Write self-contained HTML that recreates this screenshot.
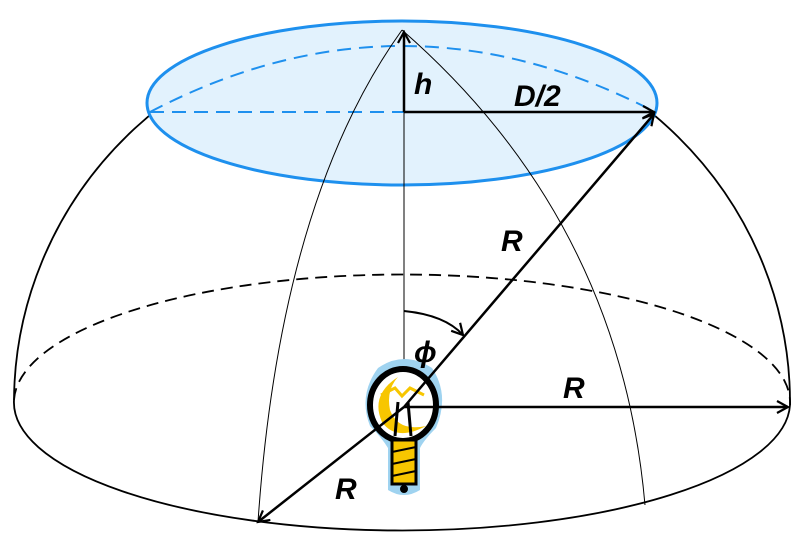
<!DOCTYPE html>
<html><head><meta charset="utf-8"><style>
html,body{margin:0;padding:0;background:#fff;}
svg{display:block;}
text{font-family:"Liberation Sans",Arial,sans-serif;font-weight:bold;font-style:italic;font-size:30px;fill:#000;}
</style></head><body>
<svg width="800" height="550" viewBox="0 0 800 550" xmlns="http://www.w3.org/2000/svg">
<defs>
<marker id="a" markerWidth="14" markerHeight="14" refX="12" refY="7" orient="auto" markerUnits="userSpaceOnUse">
<path d="M1,1 L12,7 L1,13" fill="none" stroke="#000" stroke-width="2.2"/>
</marker>
</defs>
<path d="M14,400 A388,128 0 0 1 790,405" fill="none" stroke="#000" stroke-width="1.8" stroke-dasharray="12,7"/>
<path d="M14,400 A388,128 0 0 0 790,405" fill="none" stroke="#000" stroke-width="1.8"/>
<path d="M14,400 A388,378 0 0 1 790,405" fill="none" stroke="#000" stroke-width="1.8"/>
<ellipse cx="402" cy="103" rx="255" ry="82" fill="#e2f2fd" stroke="#1e90ee" stroke-width="3"/>
<path d="M150,112 Q402,-20 655,112" fill="none" stroke="#1e90ee" stroke-width="2" stroke-dasharray="14,8"/>
<line x1="150" y1="112" x2="404" y2="112" stroke="#1e90ee" stroke-width="2" stroke-dasharray="14,8"/>
<path d="M402,30 Q280,200 258,522" fill="none" stroke="#000" stroke-width="1"/>
<path d="M402,30 Q620,220 645,505" fill="none" stroke="#000" stroke-width="1"/>
<line x1="404" y1="30" x2="404" y2="400" stroke="#000" stroke-width="1"/>
<line x1="404" y1="112" x2="404" y2="32" stroke="#000" stroke-width="2.5" marker-end="url(#a)"/>
<line x1="404" y1="112" x2="654" y2="112" stroke="#000" stroke-width="2.5" marker-end="url(#a)"/>
<path d="M404,311 Q445,315 463,335" fill="none" stroke="#000" stroke-width="2" marker-end="url(#a)"/>
<!-- bulb -->
<g>
<path d="M378,368 Q404,350 432,368 Q450,395 436,428 Q424,440 420,448 L420,490 Q404,500 388,490 L388,448 Q382,438 370,426 Q358,395 378,368 Z" fill="#9fd3f0"/>
<ellipse cx="403" cy="405" rx="33" ry="36" fill="#fff" stroke="#000" stroke-width="6"/>
<path d="M398,377 Q370,395 382,422 Q396,442 426,426 Q398,432 390,410 Q386,390 398,377 Z" fill="#f7c600"/>
<path d="M381,395 L395,388 L402,396 L410,388 L424,395" fill="none" stroke="#f7c600" stroke-width="3"/>
<path d="M398,402 L395,436 M408,402 L411,436" stroke="#000" stroke-width="3"/>
<rect x="392" y="440" width="24" height="44" fill="#f7c600" stroke="#000" stroke-width="3"/>
<path d="M392,452 L416,447 M392,464 L416,459 M392,476 L416,471" stroke="#000" stroke-width="2"/>
<circle cx="404" cy="489" r="4" fill="#000"/>
</g>
<line x1="404" y1="407" x2="654" y2="114" stroke="#000" stroke-width="2.5" marker-end="url(#a)"/>
<line x1="404" y1="407" x2="258" y2="522" stroke="#000" stroke-width="2.5" marker-end="url(#a)"/>
<line x1="404" y1="407" x2="788" y2="407" stroke="#000" stroke-width="2.5" marker-end="url(#a)"/>
<text x="414" y="94">h</text>
<text x="514" y="106">D/2</text>
<text x="501" y="251">R</text>
<text x="414" y="362" font-weight="normal" font-size="32">ϕ</text>
<text x="563" y="398">R</text>
<text x="335" y="499">R</text>
</svg>
</body></html>
